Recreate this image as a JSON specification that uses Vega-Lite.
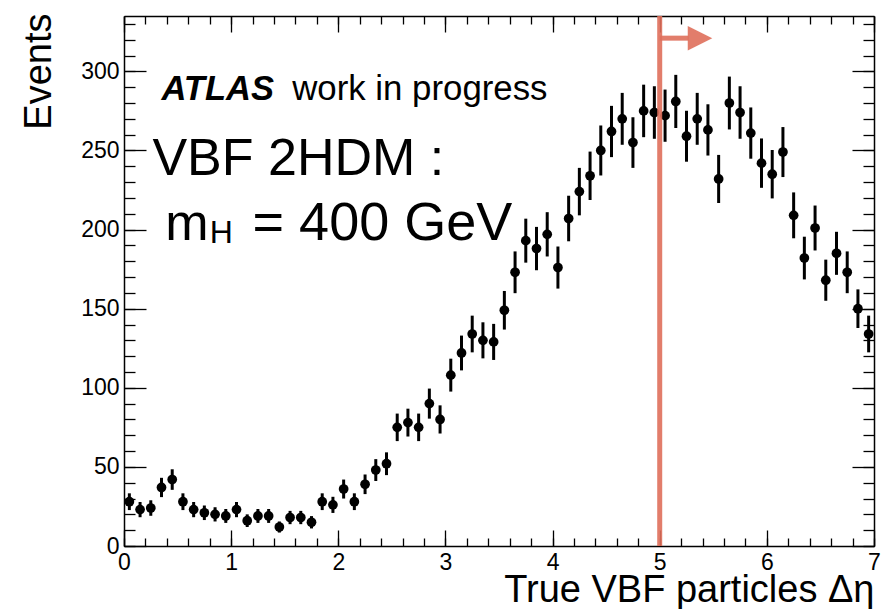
{
  "$schema": "https://vega.github.io/schema/vega-lite/v6.json",
  "width": 750,
  "height": 530,
  "padding": {"left": 124, "top": 16, "right": 7, "bottom": 63},
  "autosize": {"type": "none"},
  "background": "white",
  "config": {
    "view": {"stroke": null},
    "axis": {
      "grid": false,
      "domainColor": "black",
      "domainWidth": 1.5,
      "tickColor": "black",
      "tickWidth": 1.3,
      "labelColor": "black",
      "titleColor": "black",
      "labelFont": "Liberation Sans",
      "titleFont": "Liberation Sans",
      "labelFontSize": 23,
      "titleFontSize": 38,
      "titleFontWeight": "normal",
      "labelOverlap": false,
      "labelBound": false,
      "labelFlush": false
    }
  },
  "datasets": {
    "hist": [
      {"x": 0.05, "n": 28, "lo": 22.7, "hi": 33.3},
      {"x": 0.15, "n": 23, "lo": 18.2, "hi": 27.8},
      {"x": 0.25, "n": 24, "lo": 19.1, "hi": 28.9},
      {"x": 0.35, "n": 37, "lo": 30.9, "hi": 43.1},
      {"x": 0.45, "n": 42, "lo": 35.5, "hi": 48.5},
      {"x": 0.55, "n": 28, "lo": 22.7, "hi": 33.3},
      {"x": 0.65, "n": 23, "lo": 18.2, "hi": 27.8},
      {"x": 0.75, "n": 21, "lo": 16.4, "hi": 25.6},
      {"x": 0.85, "n": 20, "lo": 15.5, "hi": 24.5},
      {"x": 0.95, "n": 19, "lo": 14.6, "hi": 23.4},
      {"x": 1.05, "n": 23, "lo": 18.2, "hi": 27.8},
      {"x": 1.15, "n": 16, "lo": 12.0, "hi": 20.0},
      {"x": 1.25, "n": 19, "lo": 14.6, "hi": 23.4},
      {"x": 1.35, "n": 19, "lo": 14.6, "hi": 23.4},
      {"x": 1.45, "n": 12, "lo": 8.5, "hi": 15.5},
      {"x": 1.55, "n": 18, "lo": 13.8, "hi": 22.2},
      {"x": 1.65, "n": 18, "lo": 13.8, "hi": 22.2},
      {"x": 1.75, "n": 15, "lo": 11.1, "hi": 18.9},
      {"x": 1.85, "n": 28, "lo": 22.7, "hi": 33.3},
      {"x": 1.95, "n": 26, "lo": 20.9, "hi": 31.1},
      {"x": 2.05, "n": 36, "lo": 30.0, "hi": 42.0},
      {"x": 2.15, "n": 28, "lo": 22.7, "hi": 33.3},
      {"x": 2.25, "n": 39, "lo": 32.8, "hi": 45.2},
      {"x": 2.35, "n": 48, "lo": 41.1, "hi": 54.9},
      {"x": 2.45, "n": 52, "lo": 44.8, "hi": 59.2},
      {"x": 2.55, "n": 75, "lo": 66.3, "hi": 83.7},
      {"x": 2.65, "n": 78, "lo": 69.2, "hi": 86.8},
      {"x": 2.75, "n": 75, "lo": 66.3, "hi": 83.7},
      {"x": 2.85, "n": 90, "lo": 80.5, "hi": 99.5},
      {"x": 2.95, "n": 80, "lo": 71.1, "hi": 88.9},
      {"x": 3.05, "n": 108, "lo": 97.6, "hi": 118.4},
      {"x": 3.15, "n": 122, "lo": 111.0, "hi": 133.0},
      {"x": 3.25, "n": 134, "lo": 122.4, "hi": 145.6},
      {"x": 3.35, "n": 130, "lo": 118.6, "hi": 141.4},
      {"x": 3.45, "n": 129, "lo": 117.6, "hi": 140.4},
      {"x": 3.55, "n": 149, "lo": 136.8, "hi": 161.2},
      {"x": 3.65, "n": 173, "lo": 159.8, "hi": 186.2},
      {"x": 3.75, "n": 193, "lo": 179.1, "hi": 206.9},
      {"x": 3.85, "n": 188, "lo": 174.3, "hi": 201.7},
      {"x": 3.95, "n": 197, "lo": 183.0, "hi": 211.0},
      {"x": 4.05, "n": 176, "lo": 162.7, "hi": 189.3},
      {"x": 4.15, "n": 207, "lo": 192.6, "hi": 221.4},
      {"x": 4.25, "n": 224, "lo": 209.0, "hi": 239.0},
      {"x": 4.35, "n": 234, "lo": 218.7, "hi": 249.3},
      {"x": 4.45, "n": 250, "lo": 234.2, "hi": 265.8},
      {"x": 4.55, "n": 262, "lo": 245.8, "hi": 278.2},
      {"x": 4.65, "n": 270, "lo": 253.6, "hi": 286.4},
      {"x": 4.75, "n": 255, "lo": 239.0, "hi": 271.0},
      {"x": 4.85, "n": 275, "lo": 258.4, "hi": 291.6},
      {"x": 4.95, "n": 274, "lo": 257.4, "hi": 290.6},
      {"x": 5.05, "n": 272, "lo": 255.5, "hi": 288.5},
      {"x": 5.15, "n": 281, "lo": 264.2, "hi": 297.8},
      {"x": 5.25, "n": 259, "lo": 242.9, "hi": 275.1},
      {"x": 5.35, "n": 270, "lo": 253.6, "hi": 286.4},
      {"x": 5.45, "n": 263, "lo": 246.8, "hi": 279.2},
      {"x": 5.55, "n": 232, "lo": 216.8, "hi": 247.2},
      {"x": 5.65, "n": 280, "lo": 263.3, "hi": 296.7},
      {"x": 5.75, "n": 274, "lo": 257.4, "hi": 290.6},
      {"x": 5.85, "n": 261, "lo": 244.8, "hi": 277.2},
      {"x": 5.95, "n": 242, "lo": 226.4, "hi": 257.6},
      {"x": 6.05, "n": 235, "lo": 219.7, "hi": 250.3},
      {"x": 6.15, "n": 249, "lo": 233.2, "hi": 264.8},
      {"x": 6.25, "n": 209, "lo": 194.5, "hi": 223.5},
      {"x": 6.35, "n": 182, "lo": 168.5, "hi": 195.5},
      {"x": 6.45, "n": 201, "lo": 186.8, "hi": 215.2},
      {"x": 6.55, "n": 168, "lo": 155.0, "hi": 181.0},
      {"x": 6.65, "n": 185, "lo": 171.4, "hi": 198.6},
      {"x": 6.75, "n": 173, "lo": 159.8, "hi": 186.2},
      {"x": 6.85, "n": 150, "lo": 137.8, "hi": 162.2},
      {"x": 6.95, "n": 134, "lo": 122.4, "hi": 145.6}
    ]
  },
  "resolve": {
    "scale": {"x": "shared", "y": "shared"},
    "axis": {"x": "independent", "y": "independent"}
  },
  "layer": [
    {
      "data": {"name": "hist"},
      "mark": {"type": "rule", "color": "black", "strokeWidth": 3},
      "encoding": {
        "x": {"field": "x", "type": "quantitative", "scale": {"domain": [0, 7], "nice": false, "zero": false},
          "axis": {"orient": "bottom", "values": [0, 1, 2, 3, 4, 5, 6, 7], "ticks": false, "domain": true, "labels": true,
            "labelPadding": 5, "title": "True VBF particles Δη", "titleAnchor": "end", "titleAlign": "right", "titleX": 750, "titleY": 55, "titleBaseline": "alphabetic"}},
        "y": {"field": "lo", "type": "quantitative", "scale": {"domain": [0, 335], "nice": false, "zero": false},
          "axis": {"orient": "left", "values": [0, 50, 100, 150, 200, 250, 300], "ticks": false, "domain": true, "labels": true,
            "labelPadding": 5, "title": "Events", "titleAngle": 270, "titleAlign": "right", "titleBaseline": "alphabetic", "titleX": -74, "titleY": -3}},
        "y2": {"field": "hi"}
      }
    },
    {
      "data": {"name": "hist"},
      "mark": {"type": "circle", "color": "black", "opacity": 1, "size": 95},
      "encoding": {
        "x": {"field": "x", "type": "quantitative", "scale": {"domain": [0, 7], "nice": false, "zero": false},
          "axis": {"orient": "bottom", "values": [0, 1, 2, 3, 4, 5, 6, 7], "labels": false, "domain": false, "ticks": true, "tickSize": -16, "title": null}},
        "y": {"field": "n", "type": "quantitative", "scale": {"domain": [0, 335], "nice": false, "zero": false},
          "axis": {"orient": "left", "values": [0, 50, 100, 150, 200, 250, 300], "labels": false, "domain": false, "ticks": true, "tickSize": -22, "title": null}}
      }
    },
    {
      "data": {"values": [{}]},
      "mark": {"type": "rule", "color": "#df6f5b", "opacity": 0.9, "strokeWidth": 5},
      "encoding": {
        "x": {"datum": 5, "type": "quantitative", "scale": {"domain": [0, 7], "nice": false, "zero": false},
          "axis": {"orient": "bottom", "values": [0, 0.2, 0.4, 0.6, 0.8, 1, 1.2, 1.4, 1.6, 1.8, 2, 2.2, 2.4, 2.6, 2.8, 3, 3.2, 3.4, 3.6, 3.8, 4, 4.2, 4.4, 4.6, 4.8, 5, 5.2, 5.4, 5.6, 5.8, 6, 6.2, 6.4, 6.6, 6.8, 7], "labels": false, "domain": false, "ticks": true, "tickSize": -8, "title": null}},
        "y": {"datum": 0, "type": "quantitative", "scale": {"domain": [0, 335], "nice": false, "zero": false},
          "axis": {"orient": "left", "values": [0, 10, 20, 30, 40, 50, 60, 70, 80, 90, 100, 110, 120, 130, 140, 150, 160, 170, 180, 190, 200, 210, 220, 230, 240, 250, 260, 270, 280, 290, 300, 310, 320, 330], "labels": false, "domain": false, "ticks": true, "tickSize": -11, "title": null}},
        "y2": {"datum": 335}
      }
    },
    {
      "data": {"values": [{}]},
      "mark": {"type": "rule", "color": "#df6f5b", "opacity": 0.9, "strokeWidth": 5},
      "encoding": {
        "x": {"datum": 5, "type": "quantitative", "scale": {"domain": [0, 7], "nice": false, "zero": false},
          "axis": {"orient": "top", "values": [0, 1, 2, 3, 4, 5, 6, 7], "labels": false, "domain": true, "ticks": true, "tickSize": -16, "title": null}},
        "x2": {"datum": 5.27},
        "y": {"datum": 321, "type": "quantitative", "scale": {"domain": [0, 335], "nice": false, "zero": false},
          "axis": {"orient": "right", "values": [0, 50, 100, 150, 200, 250, 300], "labels": false, "domain": true, "ticks": true, "tickSize": -22, "title": null}}
      }
    },
    {
      "data": {"values": [{}]},
      "mark": {"type": "point", "shape": "M-1,-1L1,0L-1,1Z", "filled": true, "color": "#df6f5b", "opacity": 0.9, "strokeWidth": 0, "size": 600},
      "encoding": {
        "x": {"datum": 5.376, "type": "quantitative", "scale": {"domain": [0, 7], "nice": false, "zero": false},
          "axis": {"orient": "top", "values": [0, 0.2, 0.4, 0.6, 0.8, 1, 1.2, 1.4, 1.6, 1.8, 2, 2.2, 2.4, 2.6, 2.8, 3, 3.2, 3.4, 3.6, 3.8, 4, 4.2, 4.4, 4.6, 4.8, 5, 5.2, 5.4, 5.6, 5.8, 6, 6.2, 6.4, 6.6, 6.8, 7], "labels": false, "domain": false, "ticks": true, "tickSize": -8, "title": null}},
        "y": {"datum": 321, "type": "quantitative", "scale": {"domain": [0, 335], "nice": false, "zero": false},
          "axis": {"orient": "right", "values": [0, 10, 20, 30, 40, 50, 60, 70, 80, 90, 100, 110, 120, 130, 140, 150, 160, 170, 180, 190, 200, 210, 220, 230, 240, 250, 260, 270, 280, 290, 300, 310, 320, 330], "labels": false, "domain": false, "ticks": true, "tickSize": -11, "title": null}}
      }
    },
    {
      "data": {"values": [{}]},
      "mark": {"type": "text", "text": "ATLAS", "font": "Liberation Sans", "fontSize": 34.5, "fontWeight": "bold", "fontStyle": "italic", "align": "left", "baseline": "alphabetic", "color": "black"},
      "encoding": {
        "x": {"datum": 0.35, "type": "quantitative", "scale": {"domain": [0, 7], "nice": false, "zero": false}, "axis": null},
        "y": {"datum": 282, "type": "quantitative", "scale": {"domain": [0, 335], "nice": false, "zero": false}, "axis": null}
      }
    },
    {
      "data": {"values": [{}]},
      "mark": {"type": "text", "text": "work in progress", "font": "Liberation Sans", "fontSize": 34.8, "align": "left", "baseline": "alphabetic", "color": "black"},
      "encoding": {
        "x": {"datum": 1.57, "type": "quantitative", "scale": {"domain": [0, 7], "nice": false, "zero": false}, "axis": null},
        "y": {"datum": 282, "type": "quantitative", "scale": {"domain": [0, 335], "nice": false, "zero": false}, "axis": null}
      }
    },
    {
      "data": {"values": [{}]},
      "mark": {"type": "text", "text": "VBF 2HDM :", "font": "Liberation Sans", "fontSize": 52, "align": "left", "baseline": "alphabetic", "color": "black"},
      "encoding": {
        "x": {"datum": 0.265, "type": "quantitative", "scale": {"domain": [0, 7], "nice": false, "zero": false}, "axis": null},
        "y": {"datum": 234.6, "type": "quantitative", "scale": {"domain": [0, 335], "nice": false, "zero": false}, "axis": null}
      }
    },
    {
      "data": {"values": [{}]},
      "mark": {"type": "text", "text": "m", "font": "Liberation Sans", "fontSize": 52, "align": "left", "baseline": "alphabetic", "color": "black"},
      "encoding": {
        "x": {"datum": 0.385, "type": "quantitative", "scale": {"domain": [0, 7], "nice": false, "zero": false}, "axis": null},
        "y": {"datum": 193.5, "type": "quantitative", "scale": {"domain": [0, 335], "nice": false, "zero": false}, "axis": null}
      }
    },
    {
      "data": {"values": [{}]},
      "mark": {"type": "text", "text": "H", "font": "Liberation Sans", "fontSize": 32, "align": "left", "baseline": "alphabetic", "color": "black"},
      "encoding": {
        "x": {"datum": 0.8, "type": "quantitative", "scale": {"domain": [0, 7], "nice": false, "zero": false}, "axis": null},
        "y": {"datum": 191.6, "type": "quantitative", "scale": {"domain": [0, 335], "nice": false, "zero": false}, "axis": null}
      }
    },
    {
      "data": {"values": [{}]},
      "mark": {"type": "text", "text": "= 400 GeV", "font": "Liberation Sans", "fontSize": 54, "align": "left", "baseline": "alphabetic", "color": "black"},
      "encoding": {
        "x": {"datum": 1.2, "type": "quantitative", "scale": {"domain": [0, 7], "nice": false, "zero": false}, "axis": null},
        "y": {"datum": 193.5, "type": "quantitative", "scale": {"domain": [0, 335], "nice": false, "zero": false}, "axis": null}
      }
    }
  ]
}
